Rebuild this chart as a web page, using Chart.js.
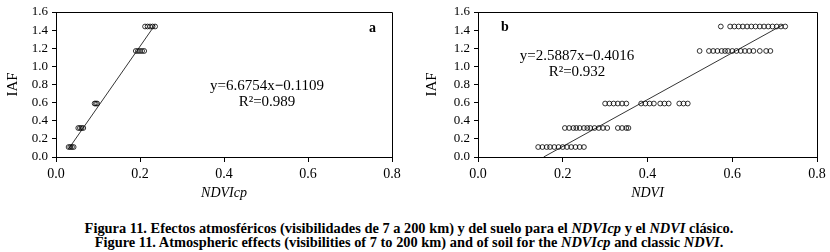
<!DOCTYPE html>
<html>
<head>
<meta charset="utf-8">
<script src="https://cdn.jsdelivr.net/npm/chart.js@4.4.1/dist/chart.umd.min.js"></script>
<style>
    body { margin: 0; background: #fff; }
    #wrap { position: relative; width: 830px; height: 252px; overflow: hidden; font-family: "Liberation Serif", "Times New Roman", serif; color: #000; }
    canvas { position: absolute; top: 0; }
    #chartA { left: 0; }
    #chartB { left: 415px; }
    .eq { position: absolute; width: 180px; text-align: center; font-size: 15px; line-height: 16px; white-space: nowrap; }
    .tag { position: absolute; font-weight: bold; font-size: 14px; line-height: 14px; }
    .caption { position: absolute; left: 0; width: 818px; text-align: center; font-weight: bold; font-size: 14.4px; line-height: 14px; white-space: nowrap; }
</style>
</head>
<body>
<div id="wrap">
    <canvas id="chartA" width="415" height="200"></canvas>
    <canvas id="chartB" width="415" height="200"></canvas>

    <div class="tag" style="left:369px; top:21px;">a</div>
    <div class="tag" style="left:501px; top:20px;">b</div>

    <div class="eq" style="left:177px; top:77px;">y=6.6754x<b>−</b>0.1109<br>R²=0.989</div>
    <div class="eq" style="left:487px; top:47px;">y=2.5887x<b>−</b>0.4016<br>R²=0.932</div>

    <div class="caption" style="top:221px;">Figura 11. Efectos atmosféricos (visibilidades de 7 a 200 km) y del suelo para el <i>NDVIcp</i> y el <i>NDVI</i> clásico.</div>
    <div class="caption" style="top:235px;">Figure 11. Atmospheric effects (visibilities of 7 to 200 km) and of soil for the <i>NDVIcp</i> and classic <i>NDVI</i>.</div>
</div>

<script>
// IAF levels shared by both panels (one row of points per level)
var iafLevels = [0.11, 0.32, 0.59, 1.17, 1.44];

// panel a: NDVIcp values for each IAF level
var ndvicpRows = [
    [0.030, 0.034, 0.038, 0.042],
    [0.053, 0.057, 0.061, 0.065],
    [0.092, 0.095, 0.098],
    [0.190, 0.195, 0.200, 0.205, 0.210],
    [0.212, 0.218, 0.224, 0.230, 0.236]
];

// panel b: classic NDVI values for each IAF level
var ndviRows = [
    [0.142, 0.152, 0.162, 0.170, 0.180, 0.190, 0.200, 0.210, 0.220, 0.230, 0.240, 0.250],
    [0.205, 0.215, 0.225, 0.232, 0.240, 0.250, 0.258, 0.265, 0.275, 0.285, 0.295, 0.305, 0.330, 0.340, 0.350, 0.355],
    [0.300, 0.310, 0.320, 0.330, 0.340, 0.350, 0.385, 0.395, 0.405, 0.415, 0.430, 0.440, 0.450, 0.475, 0.485, 0.495],
    [0.523, 0.545, 0.555, 0.565, 0.575, 0.583, 0.590, 0.600, 0.610, 0.620, 0.630, 0.640, 0.650, 0.665, 0.680, 0.690],
    [0.573, 0.595, 0.605, 0.615, 0.625, 0.635, 0.645, 0.655, 0.665, 0.675, 0.685, 0.695, 0.705, 0.715, 0.725]
];

// regression line end points
var trendA = [[0.030, 0.09], [0.236, 1.46]];
var trendB = [[0.155, 0.00], [0.720, 1.46]];

var xTicks = [0, 0.2, 0.4, 0.6, 0.8];
var yTicks = [0, 0.2, 0.4, 0.6, 0.8, 1.0, 1.2, 1.4, 1.6];

document.addEventListener('DOMContentLoaded', function () {
    setupCharts();
});

// top and right edges of the plot box
var frame = {
    id: 'frame',
    afterDraw: function (chart) {
        var a = chart.chartArea;
        var ctx = chart.ctx;
        ctx.save();
        ctx.strokeStyle = '#000';
        ctx.lineWidth = 1;
        ctx.beginPath();
        ctx.moveTo(a.left, Math.round(a.top) + 0.5);
        ctx.lineTo(Math.round(a.right) + 0.5, Math.round(a.top) + 0.5);
        ctx.lineTo(Math.round(a.right) + 0.5, a.bottom);
        ctx.stroke();
        ctx.restore();
    }
};

function makeChart(id, rows, trend, xTitle, yAxisWidth, rightPad, yTitlePad) {
    var points = [];
    rows.forEach(function (row, i) {
        row.forEach(function (x) {
            points.push({ x: x, y: iafLevels[i] });
        });
    });

    return new Chart(document.getElementById(id).getContext('2d'), {
        type: 'scatter',
        data: {
            datasets: [
                {
                    data: points,
                    pointStyle: 'circle',
                    pointRadius: 2.4,
                    borderColor: '#000',
                    borderWidth: 0.8,
                    backgroundColor: 'rgba(0,0,0,0)'
                },
                {
                    type: 'line',
                    data: trend.map(function (p) { return { x: p[0], y: p[1] }; }),
                    borderColor: '#000',
                    borderWidth: 0.8,
                    pointRadius: 0,
                    fill: false
                }
            ]
        },
        options: {
            responsive: false,
            animation: false,
            devicePixelRatio: 1,
            layout: {
                autoPadding: false,
                padding: { left: 0, top: 12, right: rightPad, bottom: 0 }
            },
            plugins: {
                legend: { display: false },
                tooltip: { enabled: false }
            },
            scales: {
                x: {
                    type: 'linear',
                    min: 0,
                    max: 0.8,
                    afterBuildTicks: function (axis) {
                        axis.ticks = xTicks.map(function (v) { return { value: v }; });
                    },
                    afterFit: function (axis) { axis.height = 43; },
                    grid: { drawOnChartArea: false, tickLength: 5, color: '#000' },
                    border: { display: true, color: '#000', width: 1 },
                    ticks: {
                        autoSkip: false,
                        maxRotation: 0,
                        padding: 4,
                        color: '#000',
                        font: { size: 14 },
                        callback: function (v) { return v.toFixed(1); }
                    },
                    title: {
                        display: true,
                        text: xTitle,
                        color: '#000',
                        font: { size: 14, style: 'italic', lineHeight: 1 },
                        padding: { top: 0, bottom: 0 }
                    }
                },
                y: {
                    type: 'linear',
                    min: 0,
                    max: 1.6,
                    afterBuildTicks: function (axis) {
                        axis.ticks = yTicks.map(function (v) { return { value: v }; });
                    },
                    afterFit: function (axis) { axis.width = yAxisWidth; },
                    grid: { drawOnChartArea: false, tickLength: 4, color: '#000' },
                    border: { display: true, color: '#000', width: 1 },
                    ticks: {
                        autoSkip: false,
                        padding: 4,
                        color: '#000',
                        font: { size: 13 },
                        callback: function (v) { return v.toFixed(1); }
                    },
                    title: {
                        display: true,
                        text: 'IAF',
                        color: '#000',
                        font: { size: 15 },
                        padding: { top: yTitlePad, bottom: 0 }
                    }
                }
            }
        },
        plugins: [frame]
    });
}

function setupCharts() {
    Chart.defaults.font.family = '"Liberation Serif", "Times New Roman", serif';
    Chart.defaults.color = '#000';
    try {
        makeChart('chartA', ndvicpRows, trendA, 'NDVIcp', 56, 23, 4);
        makeChart('chartB', ndviRows, trendB, 'NDVI', 63, 13, 8);
    } catch (error) {
        console.error('Chart setup failed: ', error);
    }
}
</script>
</body>
</html>
